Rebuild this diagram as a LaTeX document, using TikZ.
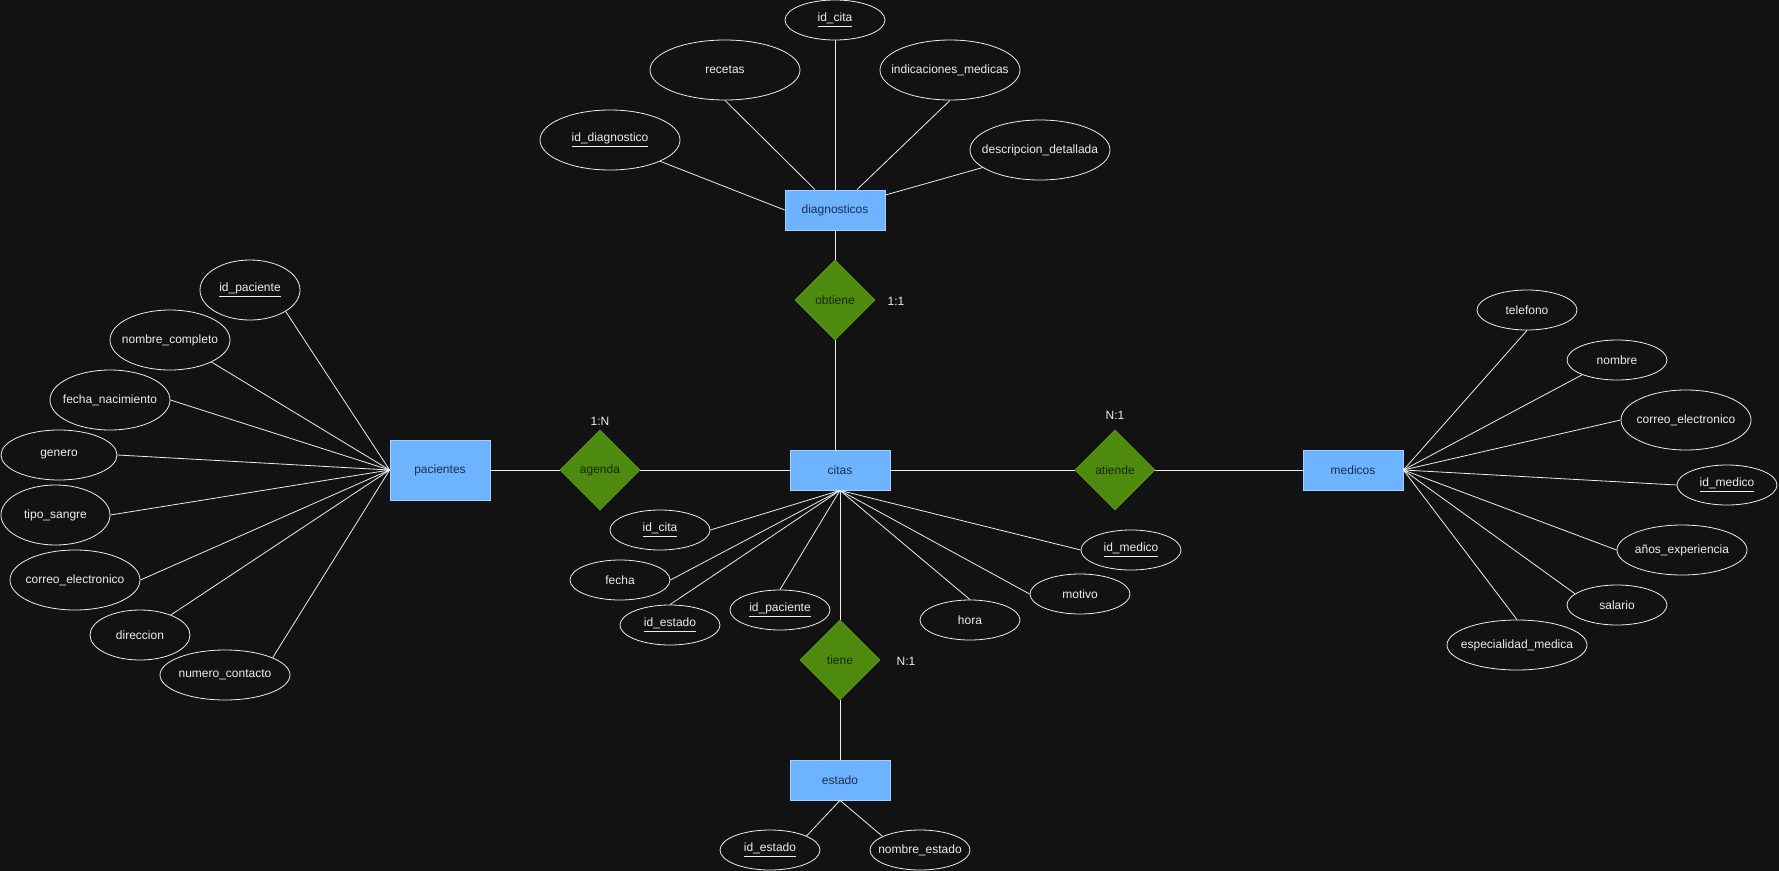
\documentclass[tikz,border=0pt]{standalone}
\usepackage{fontspec}
\setmainfont{Liberation Sans}
\usetikzlibrary{shapes.geometric,calc}
\definecolor{bgdark}{HTML}{121212}
\definecolor{entfill}{HTML}{6EB3FF}
\definecolor{entline}{HTML}{A6D0FF}
\definecolor{enttext}{HTML}{1C2F4D}
\definecolor{relfill}{HTML}{4D8A0E}
\definecolor{relline}{HTML}{5C9A1C}
\definecolor{reltext}{HTML}{18280A}
\definecolor{inkwhite}{HTML}{EDEDED}
% zero-width label so an ellipse keeps its given size
\newcommand\zw[1]{\makebox[0pt]{#1}}
\begin{document}
\begin{tikzpicture}[x=0.75pt,y=-0.75pt,
  every node/.style={font=\fontsize{9}{11}\selectfont, inner sep=0pt},
  entity/.style 2 args={rectangle, fill=entfill, draw=entline, line width=0.6pt,
    text=enttext, minimum width=#1*0.75pt, minimum height=#2*0.75pt},
  relation/.style={diamond, aspect=1, fill=relfill, draw=relline, line width=0.5pt,
    text=reltext, minimum width=60pt, minimum height=60pt},
  attr/.style 2 args={ellipse, draw=inkwhite, line width=0.6pt, text=inkwhite,
    minimum width=#1*0.75pt, minimum height=#2*0.75pt},
  card/.style={text=inkwhite},
  link/.style={draw=inkwhite, line width=0.6pt}]
\fill[bgdark] (0,0) rectangle (1779,871);
\useasboundingbox (0,0) rectangle (1779,871);

% entities
\node[entity={100}{40}] (diag) at (835,210) {diagnosticos};
\node[entity={100}{40}] (citas) at (840,470) {citas};
\node[entity={100}{60}] (pac) at (440,470) {pacientes};
\node[entity={100}{40}] (med) at (1353,470) {medicos};
\node[entity={100}{40}] (est) at (840,780) {estado};

% relationships
\node[relation] (obtiene) at (835,300) {obtiene};
\node[relation] (agenda) at (600,470) {agenda};
\node[relation] (atiende) at (1115,470) {atiende};
\node[relation] (tiene) at (840,660) {tiene};

% cardinalities
\node[card] (c11) at (896,301) {1:1};
\node[card] (c1n) at (600,421) {1:N};
\node[card] (cn1a) at (1115,415) {N:1};
\node[card] (cn1b) at (906,661) {N:1};

% attributes of diagnosticos
\node[attr={100}{40}] (dcita) at (835,20) {\zw{\underline{id\_cita}}};
\node[attr={150}{60}] (recetas) at (725,70) {\zw{recetas}};
\node[attr={140}{60}] (indic) at (950,70) {\zw{indicaciones\_medicas}};
\node[attr={140}{60}] (iddiag) at (610,140) {\zw{\underline{id\_diagnostico}}};
\node[attr={140}{60}] (descr) at (1040,150) {\zw{descripcion\_detallada}};

% attributes of pacientes
\node[attr={100}{60}] (idpac) at (250,290) {\zw{\underline{id\_paciente}}};
\node[attr={120}{60}] (nomcomp) at (170,340) {\zw{nombre\_completo}};
\node[attr={120}{60}] (fnac) at (110,400) {\zw{fecha\_nacimiento}};
\node[attr={116}{50}] (genero) at (59,455) {\zw{genero}};
\node[attr={109}{60}] (tsangre) at (55.5,515) {\zw{tipo\_sangre}};
\node[attr={130}{60}] (pcorreo) at (75,580) {\zw{correo\_electronico}};
\node[attr={100}{50}] (direc) at (140,635) {\zw{direccion}};
\node[attr={130}{50}] (numcon) at (225,675) {\zw{numero\_contacto}};

% attributes of citas
\node[attr={100}{40}] (cidcita) at (660,530) {\zw{\underline{id\_cita}}};
\node[attr={100}{40}] (cfecha) at (620,580) {\zw{fecha}};
\node[attr={100}{40}] (cidest) at (670,625) {\zw{\underline{id\_estado}}};
\node[attr={100}{40}] (cidpac) at (780,610) {\zw{\underline{id\_paciente}}};
\node[attr={100}{40}] (chora) at (970,620) {\zw{hora}};
\node[attr={100}{40}] (cmotivo) at (1080,594) {\zw{motivo}};
\node[attr={100}{40}] (cidmed) at (1131,550) {\zw{\underline{id\_medico}}};

% attributes of medicos
\node[attr={100}{40}] (mtel) at (1527,310) {\zw{telefono}};
\node[attr={100}{40}] (mnom) at (1617,360) {\zw{nombre}};
\node[attr={130}{60}] (mcorreo) at (1686,420) {\zw{correo\_electronico}};
\node[attr={100}{40}] (midmed) at (1727,485) {\zw{\underline{id\_medico}}};
\node[attr={130}{50}] (manos) at (1682,550) {\zw{años\_experiencia}};
\node[attr={100}{40}] (msal) at (1617,605) {\zw{salario}};
\node[attr={140}{50}] (mesp) at (1517,645) {\zw{especialidad\_medica}};

% attributes of estado
\node[attr={100}{40}] (eid) at (770,850) {\zw{\underline{id\_estado}}};
\node[attr={100}{40}] (enom) at (920,850) {\zw{nombre\_estado}};

% relationship lines
\draw[link] (diag.south) -- (obtiene.north);
\draw[link] (obtiene.south) -- (obtiene.south |- citas.north);
\draw[link] (pac.east) -- (agenda.west);
\draw[link] (agenda.east) -- (citas.west);
\draw[link] (citas.east) -- (atiende.west);
\draw[link] (atiende.east) -- (med.west);
\draw[link] (citas.south) -- (tiene.north);
\draw[link] (tiene.south) -- (est.north);

% diagnosticos attribute lines
\draw[link] (dcita.south) -- (diag.north);
\draw[link] (recetas.south) -- ($(diag.north)+(-20,0)$);
\draw[link] (indic.south) -- ($(diag.north)+(22,0)$);
\draw[link] (iddiag.-23) -- (diag.west);
\draw[link] (descr.197) -- ($(diag.east)+(0,-15)$);

% pacientes attribute lines
\draw[link] (idpac.-31) -- (pac.west);
\draw[link] (nomcomp.-28) -- (pac.west);
\draw[link] (fnac.east) -- (pac.west);
\draw[link] (genero.east) -- (pac.west);
\draw[link] (tsangre.east) -- (pac.west);
\draw[link] (pcorreo.east) -- (pac.west);
\draw[link] (direc.33) -- (pac.west);
\draw[link] (numcon.20) -- (pac.west);

% citas attribute lines
\draw[link] (cidcita.east) -- (citas.south);
\draw[link] (cfecha.east) -- (citas.south);
\draw[link] (cidest.north) -- (citas.south);
\draw[link] (cidpac.north) -- (citas.south);
\draw[link] (chora.north) -- (citas.south);
\draw[link] (cmotivo.west) -- (citas.south);
\draw[link] (cidmed.west) -- (citas.south);

% medicos attribute lines
\draw[link] (mtel.south) -- (med.east);
\draw[link] (mnom.203) -- (med.east);
\draw[link] (mcorreo.west) -- (med.east);
\draw[link] (midmed.west) -- (med.east);
\draw[link] (manos.west) -- (med.east);
\draw[link] (msal.165) -- (med.east);
\draw[link] (mesp.north) -- (med.east);

% estado attribute lines
\draw[link] (eid.21) -- (est.south);
\draw[link] (enom.160) -- (est.south);
\end{tikzpicture}
\end{document}
